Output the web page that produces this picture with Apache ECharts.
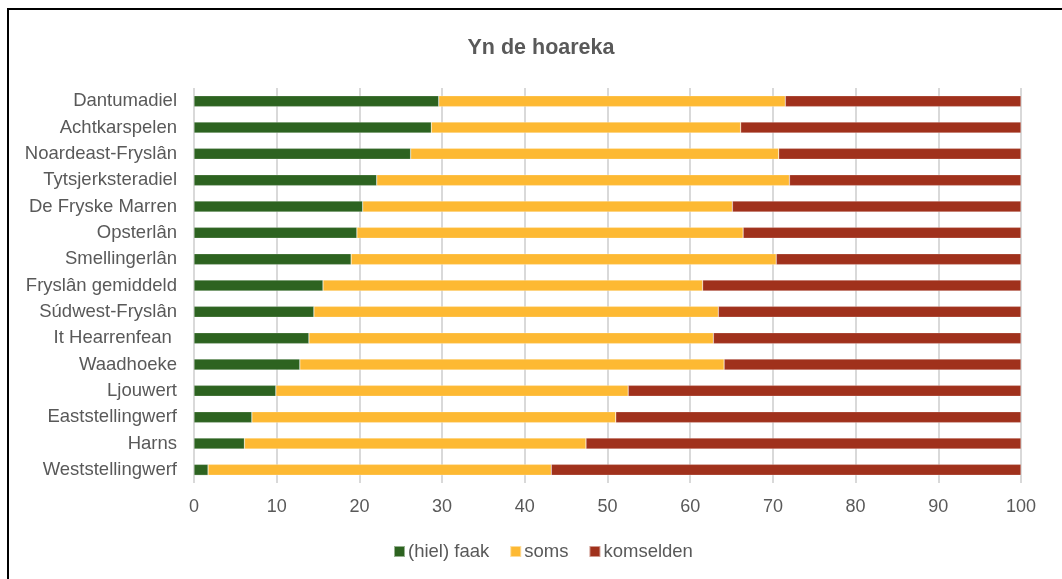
<!DOCTYPE html>
<html>
<head>
<meta charset="utf-8">
<script src="https://cdn.jsdelivr.net/npm/echarts@6/dist/echarts.min.js"></script>
<style>
html,body{margin:0;padding:0;background:#fff;}
#frame{position:absolute;left:7px;top:8px;width:1100px;height:600px;border-left:2px solid #000;border-top:2px solid #000;pointer-events:none;z-index:2;}
#chart{position:absolute;left:0;top:0;width:1062px;height:579px;}
</style>
</head>
<body>
<div id="chart"></div>
<div id="frame"></div>
<script>
const categories = ["Dantumadiel","Achtkarspelen","Noardeast-Fryslân","Tytsjerksteradiel","De Fryske Marren","Opsterlân","Smellingerlân","Fryslân gemiddeld","Súdwest-Fryslân","It Hearrenfean ","Waadhoeke","Ljouwert","Eaststellingwerf","Harns","Weststellingwerf"];
const faak      = [29.6, 28.7, 26.2, 22.1, 20.4, 19.7, 19.0, 15.6, 14.5, 13.9, 12.8, 9.9, 7.0, 6.1, 1.7];
const soms      = [41.9, 37.4, 44.5, 49.9, 44.7, 46.7, 51.4, 45.9, 48.9, 48.9, 51.3, 42.6, 44.0, 41.3, 41.5];
const komselden = [28.5, 33.9, 29.3, 28.0, 34.9, 33.6, 29.6, 38.5, 36.6, 37.2, 35.9, 47.5, 49.0, 52.6, 56.8];
const seriesNames = ["(hiel) faak","soms","komselden"];
const xTicks = [0,10,20,30,40,50,60,70,80,90,100];

const colors = ["#2D6320","#FDB933","#A0311C"];
const font = "Liberation Sans, Arial, sans-serif";
const chart = echarts.init(document.getElementById('chart'));
const mk = (name, data, i) => ({
  name, type:'bar', stack:'s', data, barWidth:11,
  itemStyle:{color:colors[i], borderColor:'rgba(255,255,255,0.5)', borderWidth:0.5},
  animation:false
});
chart.setOption({
  animation:false,
  title:{text:'Yn de hoareka', left:536, top:32, textAlign:'center',
    textStyle:{fontFamily:font, fontSize:21.5, fontWeight:'bold', color:'#595959'}},
  legend:{bottom:13, left:388, itemWidth:11, itemHeight:11, itemGap:20, icon:'rect',
    data:seriesNames,
    textStyle:{fontFamily:font, fontSize:18.5, color:'#595959', padding:[0,0,0,-2]}},
  grid:{left:194, right:41, top:88, bottom:96, containLabel:false},
  xAxis:{type:'value', min:xTicks[0], max:xTicks[xTicks.length-1], interval:10,
    axisLine:{show:false}, axisTick:{show:false},
    splitLine:{lineStyle:{color:'#d9d9d9', width:2}},
    axisLabel:{fontFamily:font, fontSize:18, color:'#595959', margin:15}},
  yAxis:{type:'category', data:categories, inverse:true,
    axisLine:{show:false}, axisTick:{show:false},
    axisLabel:{fontFamily:font, fontSize:18.5, color:'#595959', margin:17}},
  series:[mk(seriesNames[0],faak,0), mk(seriesNames[1],soms,1), mk(seriesNames[2],komselden,2)]
});
</script>
</body>
</html>
